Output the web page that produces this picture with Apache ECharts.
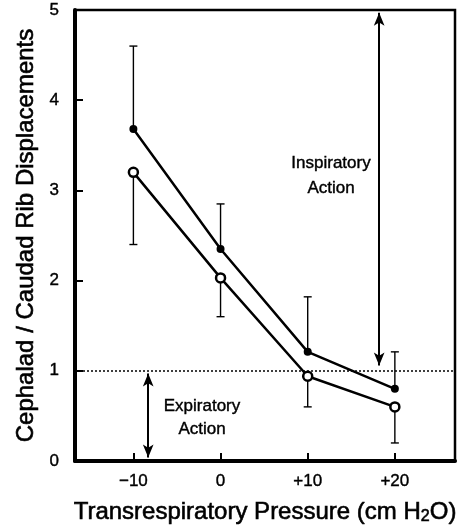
<!DOCTYPE html>
<html>
<head>
<meta charset="utf-8">
<script src="https://cdn.jsdelivr.net/npm/echarts@6/dist/echarts.min.js"></script>
<style>
  html, body { margin: 0; padding: 0; background: #fff; }
  #chart { width: 461px; height: 527px; }
</style>
</head>
<body>
<div id="chart"></div>
<script>
// transrespiratory pressure (cm H2O)
const pressure = [-10, 0, 10, 20];
// filled circles, error bars upward
const filledMean = [3.68, 2.35, 1.21, 0.80];
const filledUpper = [4.6, 2.85, 1.82, 1.21];
// open circles, error bars downward
const openMean = [3.2, 2.03, 0.94, 0.60];
const openLower = [2.4, 1.6, 0.6, 0.2];
const xTicks = [-10, 0, 10, 20];

const font = 'Liberation Sans, Arial, Helvetica, sans-serif';
// thicken strokes a bit, the scan looks heavier than a plain regular face
const heavy = { textBorderColor: '#000', textBorderWidth: 0.6 };

function errBar(params, api) {
  const x = api.value(0);
  const p0 = api.coord([x, api.value(1)]);
  const p1 = api.coord([x, api.value(2)]);
  const w = 4;
  const st = { stroke: '#000', lineWidth: 1.4 };
  return {
    type: 'group',
    children: [
      { type: 'line', shape: { x1: p0[0], y1: p0[1], x2: p1[0], y2: p1[1] }, style: st },
      { type: 'line', shape: { x1: p1[0] - w, y1: p1[1], x2: p1[0] + w, y2: p1[1] }, style: st }
    ]
  };
}

function note(text, x, y) {
  return {
    type: 'text', x: x, y: y,
    style: { text: text, font: '17px ' + font, fill: '#000', align: 'center', verticalAlign: 'middle', stroke: '#000', lineWidth: 0.4 }
  };
}

const chart = echarts.init(document.getElementById('chart'));
chart.setOption({
  animation: false,
  grid: {
    left: 75, right: 6, top: 10, bottom: 66,
    outerBoundsMode: 'none',
    containLabel: false,
    show: true, borderColor: '#000', borderWidth: 2.5, backgroundColor: '#fff'
  },
  xAxis: {
    type: 'value',
    min: -16.7, max: 26.9,
    splitLine: { show: false },
    axisLine: { onZero: false, lineStyle: { color: '#000', width: 4 } },
    axisTick: { inside: true, length: 8, customValues: xTicks, lineStyle: { color: '#000', width: 2 } },
    axisLabel: {
      customValues: xTicks, margin: 12, color: '#000', fontSize: 17, fontFamily: font,
      textBorderColor: '#000', textBorderWidth: 0.4,
      formatter: v => v < 0 ? '\u2212' + Math.abs(v) : (v > 0 ? '+' + v : '0')
    },
    name: 'Transrespiratory Pressure (cm H{sub|2}O)',
    nameLocation: 'middle',
    nameGap: 38,
    nameTextStyle: Object.assign({
      color: '#000', fontSize: 24, fontFamily: font,
      rich: { sub: Object.assign({ fontSize: 16, color: '#000', fontFamily: font, padding: [10, 0, 0, 0] }, heavy) }
    }, heavy)
  },
  yAxis: {
    type: 'value',
    min: 0, max: 5, interval: 1,
    splitLine: { show: false },
    axisLine: { onZero: false, lineStyle: { color: '#000', width: 4 } },
    axisTick: { inside: true, length: 8, lineStyle: { color: '#000', width: 2 } },
    axisLabel: { margin: 16, color: '#000', fontSize: 17, fontFamily: font, textBorderColor: '#000', textBorderWidth: 0.4 },
    name: 'Cephalad / Caudad Rib Displacements',
    nameLocation: 'middle',
    nameGap: 37,
    nameTextStyle: Object.assign({ color: '#000', fontSize: 24, fontFamily: font }, heavy)
  },
  graphic: [
    note('Inspiratory', 331, 163),
    note('Action', 331, 188),
    note('Expiratory', 202, 406),
    note('Action', 202, 429)
  ],
  series: [
    {
      type: 'custom',
      renderItem: errBar,
      data: pressure.map((x, i) => [x, filledMean[i], filledUpper[i]]),
      z: 1
    },
    {
      type: 'custom',
      renderItem: errBar,
      data: pressure.map((x, i) => [x, openMean[i], openLower[i]]),
      z: 1
    },
    {
      type: 'line',
      data: pressure.map((x, i) => [x, filledMean[i]]),
      symbol: 'circle', symbolSize: 8,
      itemStyle: { color: '#000' },
      lineStyle: { color: '#000', width: 2.5 },
      z: 3,
      markLine: {
        silent: true,
        label: { show: false },
        symbol: ['arrow', 'arrow'],
        symbolSize: [8, 13],
        lineStyle: { color: '#000', width: 2, type: 'solid' },
        data: [
          [{ coord: [18.2, 4.97] }, { coord: [18.2, 1.06] }],
          [{ coord: [-8.3, 0.97] }, { coord: [-8.3, 0.04] }]
        ]
      }
    },
    {
      type: 'line',
      data: pressure.map((x, i) => [x, openMean[i]]),
      symbol: 'circle', symbolSize: 9,
      itemStyle: { color: '#fff', borderColor: '#000', borderWidth: 2.5 },
      lineStyle: { color: '#000', width: 2.5 },
      z: 3,
      markLine: {
        silent: true,
        label: { show: false },
        symbol: 'none',
        lineStyle: { color: '#000', width: 1.5, type: [2, 2] },
        data: [{ yAxis: 1 }]
      }
    }
  ]
});
</script>
</body>
</html>
